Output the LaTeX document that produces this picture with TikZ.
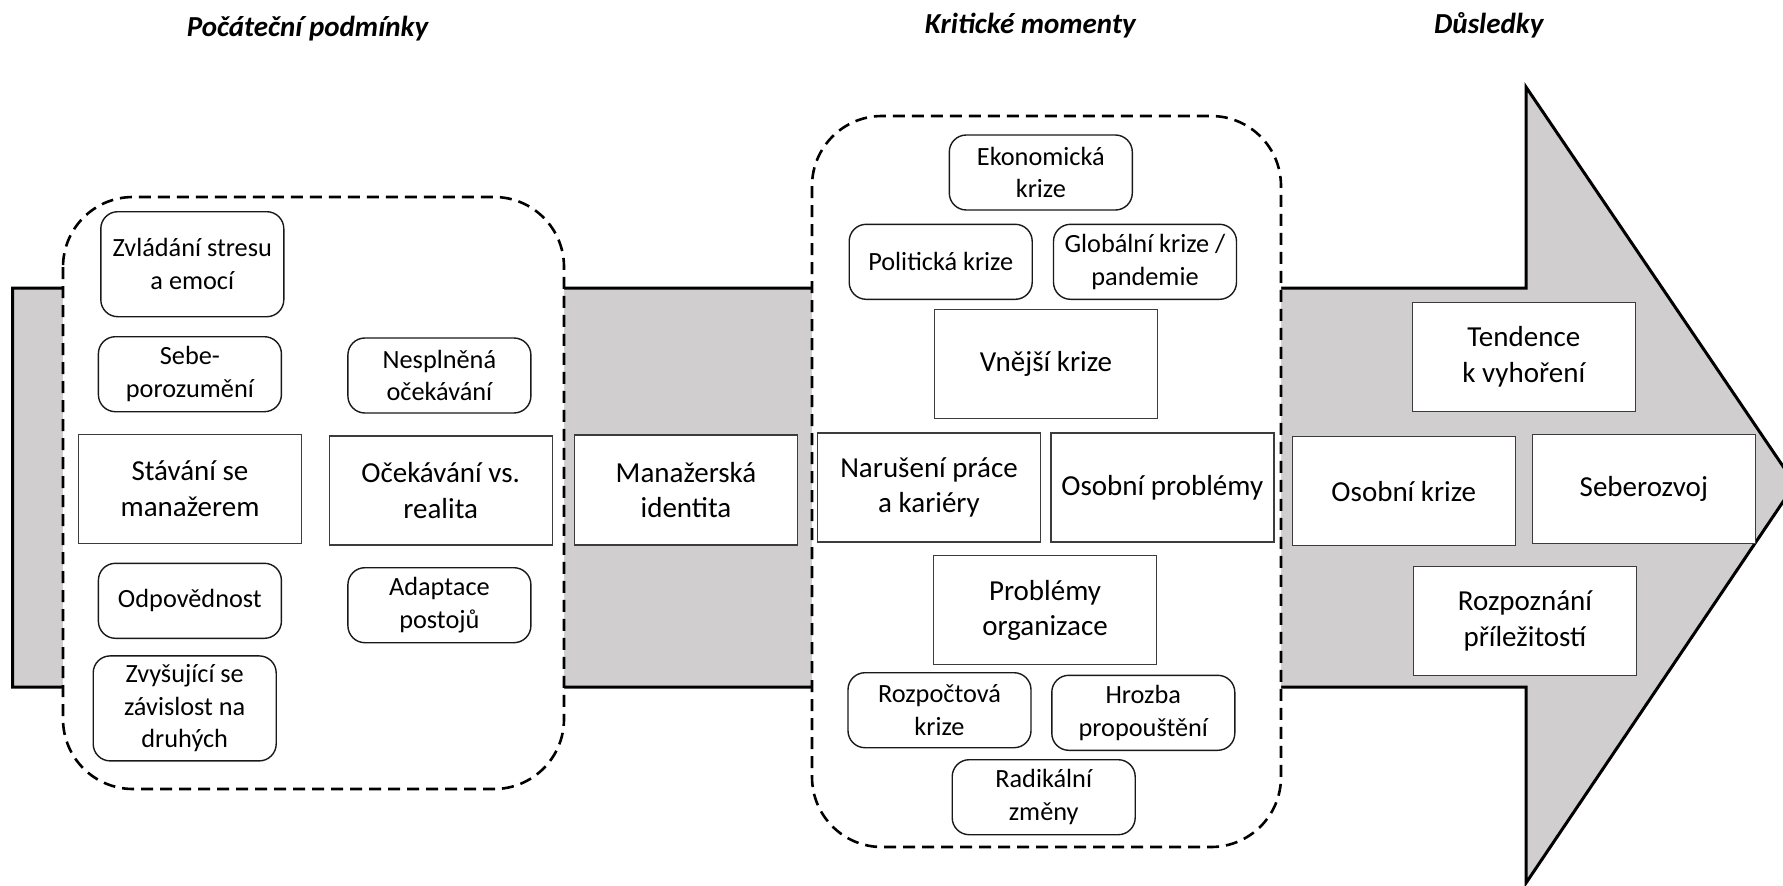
\documentclass[tikz,border=0pt]{standalone}
\usepackage{fontspec}
\setmainfont{Carlito}
\definecolor{flowgray}{RGB}{208,206,206}
\definecolor{boxedge}{RGB}{60,60,60}
\begin{document}
\begin{tikzpicture}[x=1pt,y=-1pt,
  box/.style={draw=boxedge, line width=1.4pt, fill=white, align=center, inner sep=0pt,
    minimum width=223pt, minimum height=109pt, font=\fontsize{29}{35.5}\selectfont},
  rbox/.style={draw=black!90, line width=1.4pt, fill=white, rounded corners=17pt, align=center,
    inner sep=0pt, minimum width=183pt, minimum height=75pt, font=\fontsize{26.3}{32.5}\selectfont},
  group/.style={draw=black, line width=2.6pt, dash pattern=on 12pt off 7pt, fill=white, rounded corners=70pt},
  heading/.style={font=\fontsize{29}{35}\selectfont\bfseries\itshape, anchor=base, inner sep=0pt}
]
\useasboundingbox (0,0) rectangle (1783,886);

% big process arrow
\draw[fill=flowgray, line width=3pt, line join=miter]
  (12.5,288) -- (1526,288) -- (1526,87) -- (1795,484) -- (1526,883) -- (1526,687) -- (12.5,687) -- cycle;

% dashed groups
\draw[group] (63,197) rectangle (564,789);
\draw[group] (812,116) rectangle (1281,847);

% headings
\node[heading] (hstart) at (307.5,36) {Počáteční podmínky};
\node[heading] (hcrit) at (1030.3,33.3) {Kritické momenty};
\node[heading] (hres) at (1488.8,33.3) {Důsledky};

% initial conditions
\node[rbox, minimum height=105pt] (stres) at (192.3,264.2) {Zvládání stresu\\a emocí};
\node[rbox] (sebe) at (189.9,374.2) {Sebe-\\porozumění};
\node[rbox] (nespl) at (439.4,375.5) {Nesplněná\\očekávání};
\node[box] (stavani) at (190,488.7) {Stávání se\\manažerem};
\node[box] (ocek) at (440.7,490.4) {Očekávání vs.\\realita};
\node[rbox] (odpov) at (189.9,600.8) {Odpovědnost};
\node[rbox] (adapt) at (439.4,605.2) {Adaptace\\postojů};
\node[rbox, minimum height=105pt] (zavis) at (184.7,708.4) {Zvyšující se\\závislost na\\druhých};

% identity
\node[box, minimum height=110pt] (ident) at (686,490) {Manažerská\\identita};

% critical moments
\node[rbox] (ekon) at (1040.8,172.5) {Ekonomická\\krize};
\node[rbox] (polit) at (940.7,261.8) {Politická krize};
\node[rbox] (glob) at (1145,261.8) {Globální krize /\\pandemie};
\node[box] (vnejsi) at (1046,363.7) {Vnější krize};
\node[box] (naruseni) at (929,487.5) {Narušení práce\\a kariéry};
\node[box] (osprob) at (1162.3,487.5) {Osobní problémy};
\node[box] (org) at (1045,610.2) {Problémy\\organizace};
\node[rbox] (rozp) at (939.5,710.2) {Rozpočtová\\krize};
\node[rbox] (hrozba) at (1143.3,712.8) {Hrozba\\propouštění};
\node[rbox] (radik) at (1043.7,797.2) {Radikální\\změny};

% consequences
\node[box] (vyhor) at (1523.8,356.9) {Tendence\\k vyhoření};
\node[box] (oskrize) at (1403.8,491.2) {Osobní krize};
\node[box] (rozvoj) at (1643.8,488.8) {Seberozvoj};
\node[box] (prilez) at (1525,621.1) {Rozpoznání\\příležitostí};
\end{tikzpicture}
\end{document}
